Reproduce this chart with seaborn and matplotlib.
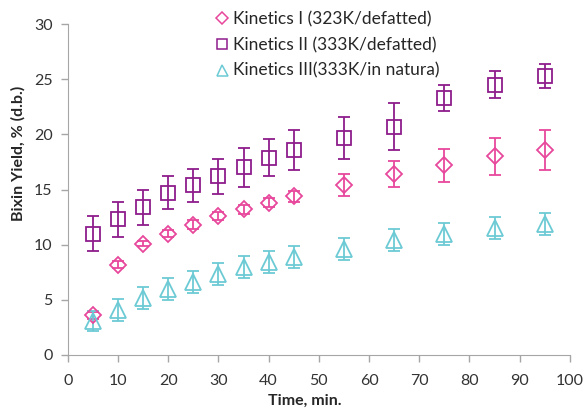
import numpy as np
import matplotlib
matplotlib.use('Agg')
import matplotlib.pyplot as plt
from matplotlib.lines import Line2D
import seaborn as sns

time_min = [5, 10, 15, 20, 25, 30, 35, 40, 45, 55, 65, 75, 85, 95]

kin1 = [3.6, 8.2, 10.1, 11.0, 11.8, 12.6, 13.2, 13.8, 14.4, 15.4, 16.4, 17.2, 18.0, 18.6]
kin1_err = [0.3, 0.3, 0.2, 0.3, 0.4, 0.4, 0.4, 0.4, 0.5, 1.0, 1.2, 1.5, 1.7, 1.8]

kin2 = [11.0, 12.3, 13.4, 14.7, 15.4, 16.2, 17.0, 17.9, 18.6, 19.7, 20.7, 23.3, 24.5, 25.3]
kin2_err = [1.6, 1.6, 1.6, 1.5, 1.5, 1.6, 1.75, 1.7, 1.8, 1.9, 2.1, 1.2, 1.2, 1.1]

kin3 = [3.1, 4.1, 5.2, 6.0, 6.6, 7.3, 8.0, 8.4, 8.9, 9.6, 10.4, 11.0, 11.5, 11.9]
kin3_err = [0.9, 1.0, 1.0, 1.0, 1.0, 1.0, 1.0, 1.0, 1.0, 1.0, 1.0, 1.0, 1.0, 1.0]

labels = ['Kinetics I (323K/defatted)',
          'Kinetics II (333K/defatted)',
          'Kinetics III(333K/in natura)']


def main():
    sns.set_style('ticks')
    plt.rcParams['font.family'] = ['Lato', 'DejaVu Sans']

    fig = plt.figure(figsize=(5.85, 4.08), dpi=100)
    ax = fig.add_axes([0.116, 0.130, 0.858, 0.811])

    series = [
        (kin1, kin1_err, 'D', '#E8489C', 8),
        (kin2, kin2_err, 's', '#8E1D8C', 10.5),
        (kin3, kin3_err, '^', '#6CCAD5', 11),
    ]
    handles = []
    for (vals, err, mk, col, ms), lab in zip(series, labels):
        ax.errorbar(time_min, vals, yerr=err, fmt=mk, ms=ms, mfc='none',
                    mec=col, mew=1.3, ecolor=col, elinewidth=1.3,
                    capsize=4, capthick=1.3)
        handles.append(Line2D([], [], ls='none', marker=mk, mfc='none',
                              mec=col, mew=1.1, ms=ms * 0.72, label=lab))

    ax.set_xlim(0, 100)
    ax.set_ylim(0, 30)
    ax.set_xticks(np.arange(0, 101, 10))
    ax.set_yticks(np.arange(0, 31, 5))
    ax.tick_params(colors='#A6A6A6', labelcolor='#333333', labelsize=11.5,
                   length=5, width=1)
    ax.tick_params(axis='x', pad=9)
    ax.tick_params(axis='y', pad=6)
    for s in ['left', 'bottom']:
        ax.spines[s].set_color('#A6A6A6')
    sns.despine(ax=ax)

    ax.set_xlabel('Time, min.', fontsize=11.5, fontweight='bold',
                  color='#262626')
    ax.set_ylabel('Bixin Yield, % (d.b.)', fontsize=11.5, fontweight='bold',
                  color='#262626')
    ax.xaxis.set_label_coords(0.472, -0.118)
    ax.yaxis.set_label_coords(-0.085, 0.61)

    leg = ax.legend(handles=handles, loc='upper left',
                    bbox_to_anchor=(0.283, 1.06),
                    frameon=False, fontsize=12.5, handlelength=0.6,
                    handletextpad=0.35, labelspacing=0.55, borderaxespad=0)
    for t in leg.get_texts():
        t.set_color('#262626')

    fig.savefig('out.png', dpi=100)


if __name__ == "__main__":
    main()
